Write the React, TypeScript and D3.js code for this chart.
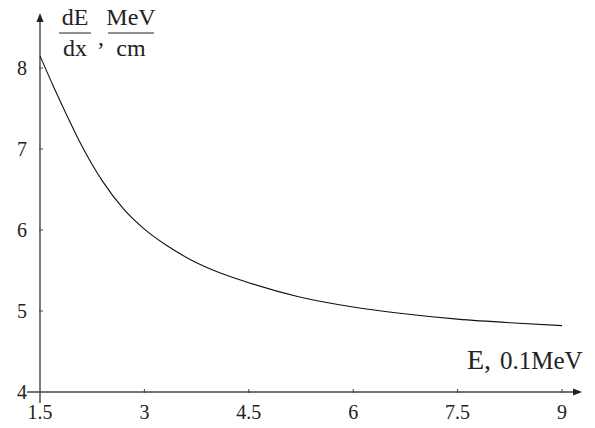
import React from "react";
import * as d3 from "d3";

const energy = [1.5, 1.7, 1.9, 2.1, 2.4, 2.7, 3.0, 3.3, 3.65, 4.0, 4.5, 5.2, 6.0, 6.7, 7.5, 8.25, 9.0];
const stopping = [8.15, 7.76, 7.39, 7.04, 6.6, 6.26, 6.01, 5.82, 5.64, 5.5, 5.35, 5.18, 5.05, 4.97, 4.9, 4.855, 4.82];
const xTicks = [1.5, 3, 4.5, 6, 7.5, 9];
const xTickLabels = ["1.5", "3", "4.5", "6", "7.5", "9"];
const yTicks = [4, 5, 6, 7, 8];
const yTickLabels = ["4", "5", "6", "7", "8"];

const W = 595;
const H = 428;
const FONT = "'Liberation Serif', 'Times New Roman', serif";

export default function App() {
  const x = d3.scaleLinear().domain([1.5, 9]).range([40, 562]);
  const y = d3.scaleLinear().domain([4, 8]).range([392, 68]);
  const pts: [number, number][] = energy.map((e, i) => [e, stopping[i]]);
  const line = d3
    .line<[number, number]>()
    .x((d) => x(d[0]))
    .y((d) => y(d[1]))
    .curve(d3.curveMonotoneX);

  const ox = x(1.5);
  const oy = y(4);
  const axisColor = "#444";

  return (
    <svg
      width={W}
      height={H}
      style={{ position: "absolute", left: 0, top: 0, background: "#fff" }}
      fontFamily={FONT}
    >
      {/* y axis */}
      <line x1={ox} y1={oy + 11} x2={ox} y2={20} stroke={axisColor} strokeWidth={1.4} />
      <path d={`M${ox - 3.5},${22} L${ox},${13} L${ox + 3.5},${22} Z`} fill="#222" />
      {/* x axis */}
      <line x1={ox - 13} y1={oy} x2={575} y2={oy} stroke={axisColor} strokeWidth={1.4} />
      <path d={`M${573},${oy - 3.5} L${582},${oy} L${573},${oy + 3.5} Z`} fill="#222" />

      {yTicks.map((t, i) => (
        <g key={"y" + t}>
          {i > 0 && (
            <line x1={ox - 1} x2={ox + 3} y1={y(t)} y2={y(t)} stroke={axisColor} strokeWidth={1} />
          )}
          <text x={22} y={y(t)} dy="0.36em" fontSize={20} textAnchor="middle" fill="#222">
            {yTickLabels[i]}
          </text>
        </g>
      ))}
      {xTicks.map((t, i) => (
        <g key={"x" + t}>
          {i > 0 && (
            <line x1={x(t)} x2={x(t)} y1={oy - 3} y2={oy + 1} stroke={axisColor} strokeWidth={1} />
          )}
          <text x={x(t)} y={419} fontSize={20} textAnchor="middle" fill="#222">
            {xTickLabels[i]}
          </text>
        </g>
      ))}

      <path d={line(pts) || ""} fill="none" stroke="#111" strokeWidth={1.1} />

      {/* y axis label: dE/dx , MeV/cm */}
      <g fill="#222" fontSize={24}>
        <text x={75} y={25} textAnchor="middle">dE</text>
        <line x1={59} x2={91} y1={33} y2={33} stroke="#222" strokeWidth={1} />
        <text x={75} y={56} textAnchor="middle">dx</text>
        <text x={101} y={45} textAnchor="middle">,</text>
        <text x={131} y={25} textAnchor="middle">MeV</text>
        <line x1={108} x2={154} y1={33} y2={33} stroke="#222" strokeWidth={1} />
        <text x={131} y={56} textAnchor="middle">cm</text>
      </g>

      {/* x axis label */}
      <text x={467} y={369} fontSize={28} fill="#222">E,</text>
      <text x={500} y={369} fontSize={25} fill="#222">0.1MeV</text>
    </svg>
  );
}
